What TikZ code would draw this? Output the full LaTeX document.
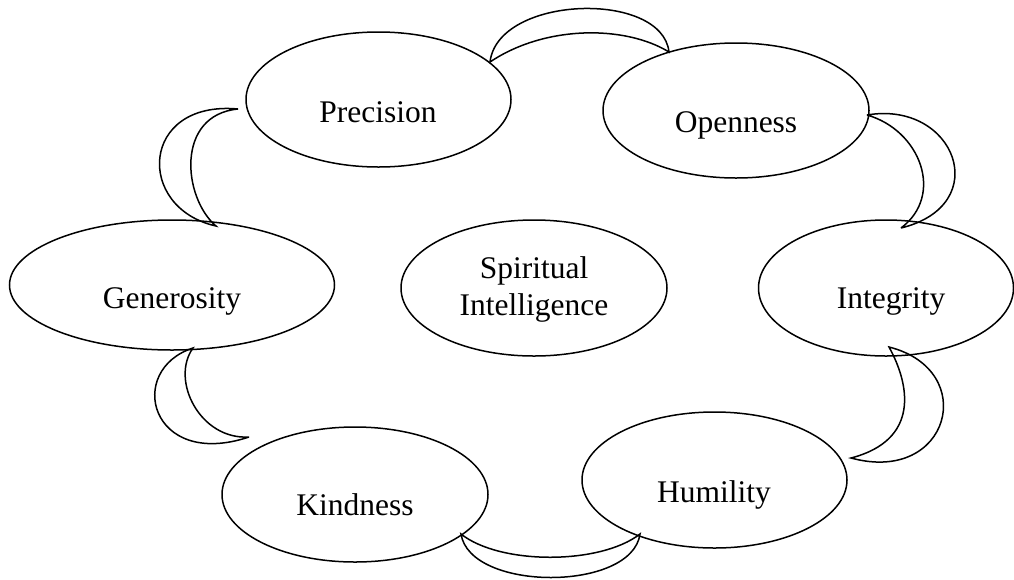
\documentclass[tikz,border=0pt]{standalone}
\usepackage{fontspec}
\setmainfont{Liberation Serif}
\usetikzlibrary{shapes.geometric}
\begin{document}
\begin{tikzpicture}[x=1pt,y=-1pt,
  oval/.style={draw=black, line width=1.5pt, ellipse, inner sep=0pt, outer sep=0pt},
  lbl/.style={anchor=base, inner sep=0pt, font=\fontsize{31.5}{37}\selectfont},
  moon/.style={draw=black, line width=1.5pt, line join=miter, miter limit=4}]
\useasboundingbox (0,0) rectangle (1014,579);
% ellipses
\node[oval, minimum width=265pt, minimum height=135pt] (prec) at (378.5,99.5) {};
\node[oval, minimum width=266pt, minimum height=135pt] (open) at (736,110.5) {};
\node[oval, minimum width=325pt, minimum height=130pt] (gen) at (172,285) {};
\node[oval, minimum width=266pt, minimum height=136pt] (spirit) at (534,288) {};
\node[oval, minimum width=255pt, minimum height=136pt] (integ) at (886,288) {};
\node[oval, minimum width=266pt, minimum height=135pt] (kind) at (355,494.5) {};
\node[oval, minimum width=265pt, minimum height=136pt] (hum) at (714.5,480) {};
% labels
\node[lbl] (precT) at (378,122) {Precision};
\node[lbl] (openT) at (736,132) {Openness};
\node[lbl] (genT) at (172,308) {Generosity};
\node[lbl] (spiritT1) at (534,278) {Spiritual};
\node[lbl] (spiritT2) at (534,315) {Intelligence};
\node[lbl] (integT) at (891,308) {Integrity};
\node[lbl] (kindT) at (355,515) {Kindness};
\node[lbl] (humT) at (714,502) {Humility};
% crescent tips
\coordinate (c1a) at (490,62);
\coordinate (c1b) at (669,52);
\coordinate (c2a) at (238,109);
\coordinate (c2b) at (216,226);
\coordinate (c3a) at (867,115);
\coordinate (c3b) at (901,228);
\coordinate (c4a) at (193,348);
\coordinate (c4b) at (249,437);
\coordinate (c5a) at (889,347);
\coordinate (c5b) at (851,458);
\coordinate (c6a) at (461,534);
\coordinate (c6b) at (640,534);
% Precision -> Openness
\draw[moon] (c1a) .. controls (498,-5) and (662,-10) .. (c1b)
            .. controls (625,25) and (545,25) .. (c1a) -- cycle;
% Precision -> Generosity
\draw[moon] (c2a) .. controls (140,100) and (135,208) .. (c2b)
            .. controls (183,198) and (175,115) .. (c2a) -- cycle;
% Openness -> Integrity
\draw[moon] (c3a) .. controls (955,100) and (995,205) .. (c3b)
            .. controls (945,195) and (920,130) .. (c3a) -- cycle;
% Generosity -> Kindness
\draw[moon] (c4a) .. controls (125,370) and (150,470) .. (c4b)
            .. controls (200,440) and (170,380) .. (c4a) -- cycle;
% Integrity -> Humility
\draw[moon] (c5a) .. controls (980,370) and (950,485) .. (c5b)
            .. controls (920,440) and (910,385) .. (c5a) -- cycle;
% Kindness -> Humility
\draw[moon] (c6a) .. controls (470,592) and (632,592) .. (c6b)
            .. controls (600,565) and (500,565) .. (c6a) -- cycle;
\end{tikzpicture}
\end{document}
